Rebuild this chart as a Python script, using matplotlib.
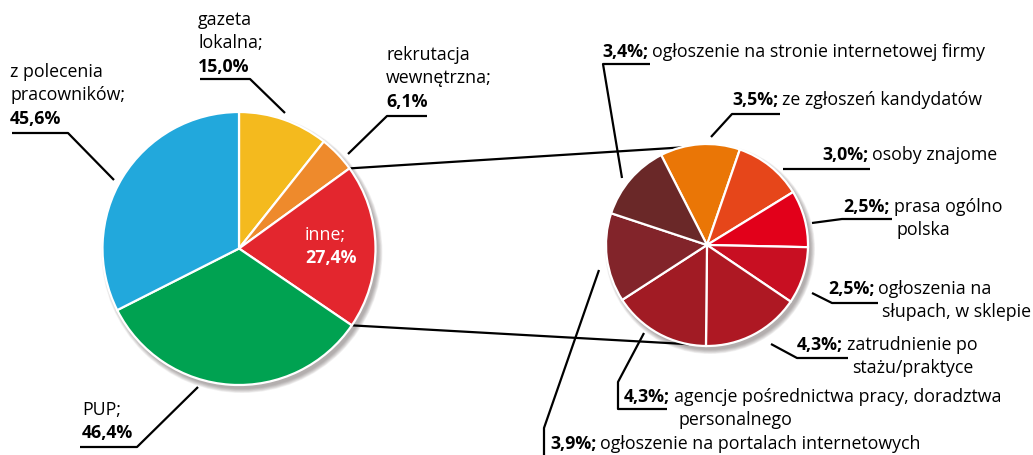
import matplotlib
matplotlib.use('Agg')
import numpy as np
import matplotlib.pyplot as plt
from matplotlib.patches import Circle

W, H = 1033, 455

# main pie (clockwise from top)
main_labels = ['gazeta\nlokalna;', 'rekrutacja\nwewnętrzna;', 'inne;', 'PUP;', 'z polecenia\npracowników;']
main_values = [15.0, 6.1, 27.4, 46.4, 45.6]
main_colors = ['#F4BA1E', '#EE8A2C', '#E3262E', '#00A251', '#22A8DC']

# breakdown of "inne" (clockwise from the orange slice)
sub_labels = ['ze zgłoszeń kandydatów', 'osoby znajome', 'prasa ogólno\npolska',
              'ogłoszenia na\nsłupach, w sklepie', 'zatrudnienie po\nstażu/praktyce',
              'agencje pośrednictwa pracy, doradztwa\npersonalnego',
              'ogłoszenie na portalach internetowych',
              'ogłoszenie na stronie internetowej firmy']
sub_values = [3.5, 3.0, 2.5, 2.5, 4.3, 4.3, 3.9, 3.4]
sub_colors = ['#EA7606', '#E6461A', '#E2001A', '#C80F22', '#AE1823', '#A11B24', '#82242A', '#6A2828']


def pct(v):
    return f'{v:.1f}%'.replace('.', ',')


def Y(y):
    return H - y


plt.rcParams['font.family'] = ['Open Sans', 'DejaVu Sans']
fs = 12.8
bold = dict(fontweight='bold', fontstretch='normal')

fig = plt.figure(figsize=(W / 100, H / 100), dpi=100)
ax = fig.add_axes([0, 0, 1, 1])

c1, r1 = (239, Y(248.5)), 136.5
c2, r2 = (707, Y(245)), 101


def shadow(c, r):
    for k in range(8):
        ax.add_patch(Circle((c[0] + 3, c[1] - 4), r + 4 - k * 0.6,
                            color='#5a5050', alpha=0.07, lw=0, zorder=1))


shadow(c1, r1)
shadow(c2, r2)

w1, _ = ax.pie(main_values, colors=main_colors, startangle=90, counterclock=False,
               center=c1, radius=r1, wedgeprops=dict(edgecolor='white', linewidth=1.6))
w2, _ = ax.pie(sub_values, colors=sub_colors, startangle=117, counterclock=False,
               center=c2, radius=r2, wedgeprops=dict(edgecolor='white', linewidth=1.6))
for w in w1 + w2:
    w.set_zorder(2)

ax.set_xlim(0, W)
ax.set_ylim(0, H)
ax.set_aspect('equal')
ax.axis('off')


def leader(pts):
    xs = [p[0] for p in pts]
    ys = [Y(p[1]) for p in pts]
    ax.plot(xs, ys, color='black', lw=1.6, solid_capstyle='butt', zorder=3)


# lines joining "inne" to the breakdown pie
red = w1[2]
for ang, ang2 in [(red.theta2, 105), (red.theta1, -101)]:
    p1 = (c1[0] + r1 * np.cos(np.radians(ang)), c1[1] + r1 * np.sin(np.radians(ang)))
    p2 = (c2[0] + r2 * np.cos(np.radians(ang2)), c2[1] + r2 * np.sin(np.radians(ang2)))
    ax.plot([p1[0], p2[0]], [p1[1], p2[1]], color='black', lw=1.6, zorder=1.5)

# main pie labels: (x, first line y, leader)
main_pos = [
    (198, 20, [(200, 79), (250, 79), (285, 113)]),
    (386, 55, [(427, 116), (387, 116), (348, 154)]),
    (305, 235, None),
    (82, 410, [(80, 447), (137, 447), (198, 387)]),
    (10, 72, [(12, 133), (68, 133), (114, 180)]),
]
step = 23.3
for lab, val, (x, y, ld) in zip(main_labels, main_values, main_pos):
    col = 'white' if ld is None else 'black'
    lines = lab.split('\n')
    for i, t in enumerate(lines):
        ax.text(x, Y(y + i * step), t, fontsize=fs, color=col, va='center', ha='left', zorder=4)
    ax.text(x, Y(y + len(lines) * step), pct(val), fontsize=fs, color=col,
            va='center', ha='left', zorder=4, **bold)
    if ld:
        leader(ld)

fig.canvas.draw()
rend = fig.canvas.get_renderer()
inv = ax.transData.inverted()

# breakdown labels: (x of bold value, y of first line, x of second line, leader)
sub_pos = [
    (732, 100, None, [(780, 114), (732, 114), (711, 137)]),
    (822, 155, None, [(870, 169), (783, 169)]),
    (843, 207, 897, [(812, 223), (842, 219), (892, 219)]),
    (828, 289, 882, [(812, 293), (832, 303), (878, 303)]),
    (797, 345, 852, [(771, 344), (797, 358), (848, 358)]),
    (624, 397, 679, [(644, 333), (618, 382), (618, 409), (667, 409)]),
    (550, 444, None, [(599, 270), (544, 428), (544, 460)]),
    (602, 52, None, [(650, 64), (603, 64), (622, 178)]),
]
for lab, val, (x, y, x2, ld) in zip(sub_labels, sub_values, sub_pos):
    b = ax.text(x, Y(y), pct(val) + ';', fontsize=fs, va='center', ha='left', zorder=4, **bold)
    bb = b.get_window_extent(rend)
    xe = inv.transform((bb.x1, bb.y0))[0]
    lines = lab.split('\n')
    ax.text(xe + 4, Y(y), lines[0], fontsize=fs, va='center', ha='left', zorder=4)
    if len(lines) > 1:
        ax.text(x2, Y(y + step), lines[1], fontsize=fs, va='center', ha='left', zorder=4)
    leader(ld)

fig.savefig('out.png', dpi=100, facecolor='white')
